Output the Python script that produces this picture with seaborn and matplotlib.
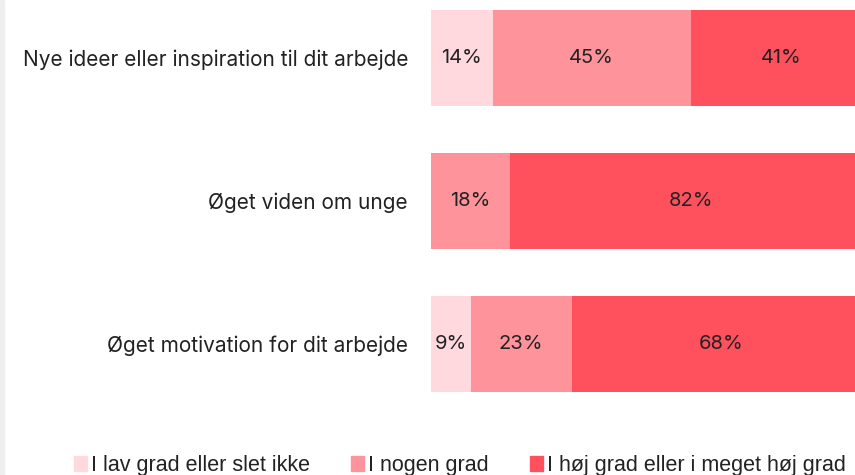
import matplotlib
matplotlib.use("Agg")
import matplotlib.pyplot as plt
import matplotlib.patches as mpatches
import seaborn as sns
import pandas as pd
import numpy as np

sns.set_style("white")
plt.rcParams["font.family"] = ["Inter", "DejaVu Sans"]

# ---- data ----
categories = [
    "Nye ideer eller inspiration til dit arbejde",
    "Øget viden om unge",
    "Øget motivation for dit arbejde",
]
series = ["I lav grad eller slet ikke", "I nogen grad", "I høj grad eller i meget høj grad"]
low = [14, 0, 9]
some = [45, 18, 23]
high = [41, 82, 68]
colors = ["#FFD9DE", "#FF939C", "#FF505E"]
text_color = "#222222"

df = pd.DataFrame({"cat": categories, "low": low, "some": some, "high": high})
df["c1"] = df["low"]
df["c2"] = df["low"] + df["some"]
df["c3"] = df["c2"] + df["high"]

fig = plt.figure(figsize=(8.55, 4.75), dpi=100)
fig.patches.append(mpatches.Rectangle((0, 0), 4 / 855, 1, transform=fig.transFigure,
                                      color="#EEEEEE", zorder=0))

ax = fig.add_axes([431 / 855, 59.5 / 475, 440 / 855, 429 / 475])

# stacked bars: draw cumulative totals back to front
for col, c in zip(["c3", "c2", "c1"], colors[::-1]):
    sns.barplot(data=df, y="cat", x=col, color=c, width=0.665, ax=ax,
                orient="h", saturation=1, linewidth=0)

ax.set_xlim(0, 100)
ax.set_ylim(2.5, -0.5)
ax.set_xlabel("")
ax.set_ylabel("")
ax.set_xticks([])
ax.tick_params(axis="y", length=0, pad=16.5, labelsize=15, labelcolor=text_color)
sns.despine(ax=ax, left=True, bottom=True)

# value labels in segment centres
for i, row in df.iterrows():
    starts = [0, row["c1"], row["c2"]]
    vals = [row["low"], row["some"], row["high"]]
    for s, v in zip(starts, vals):
        if v > 0:
            ax.text(s + v / 2, i, f"{v}%", ha="center", va="center",
                    fontsize=14.5, color=text_color)

handles = [mpatches.Patch(color=c, label=s) for c, s in zip(colors, series)]
fig.legend(handles=handles, loc="center", bbox_to_anchor=(0.538, 0.02), ncol=3,
           frameon=False, handlelength=0.6, handleheight=0.75, handletextpad=0.2,
           columnspacing=1.9, prop={"family": ["Liberation Sans", "DejaVu Sans"],
                                    "size": 15.5}, labelcolor=text_color)

fig.savefig("out.png", dpi=100)
